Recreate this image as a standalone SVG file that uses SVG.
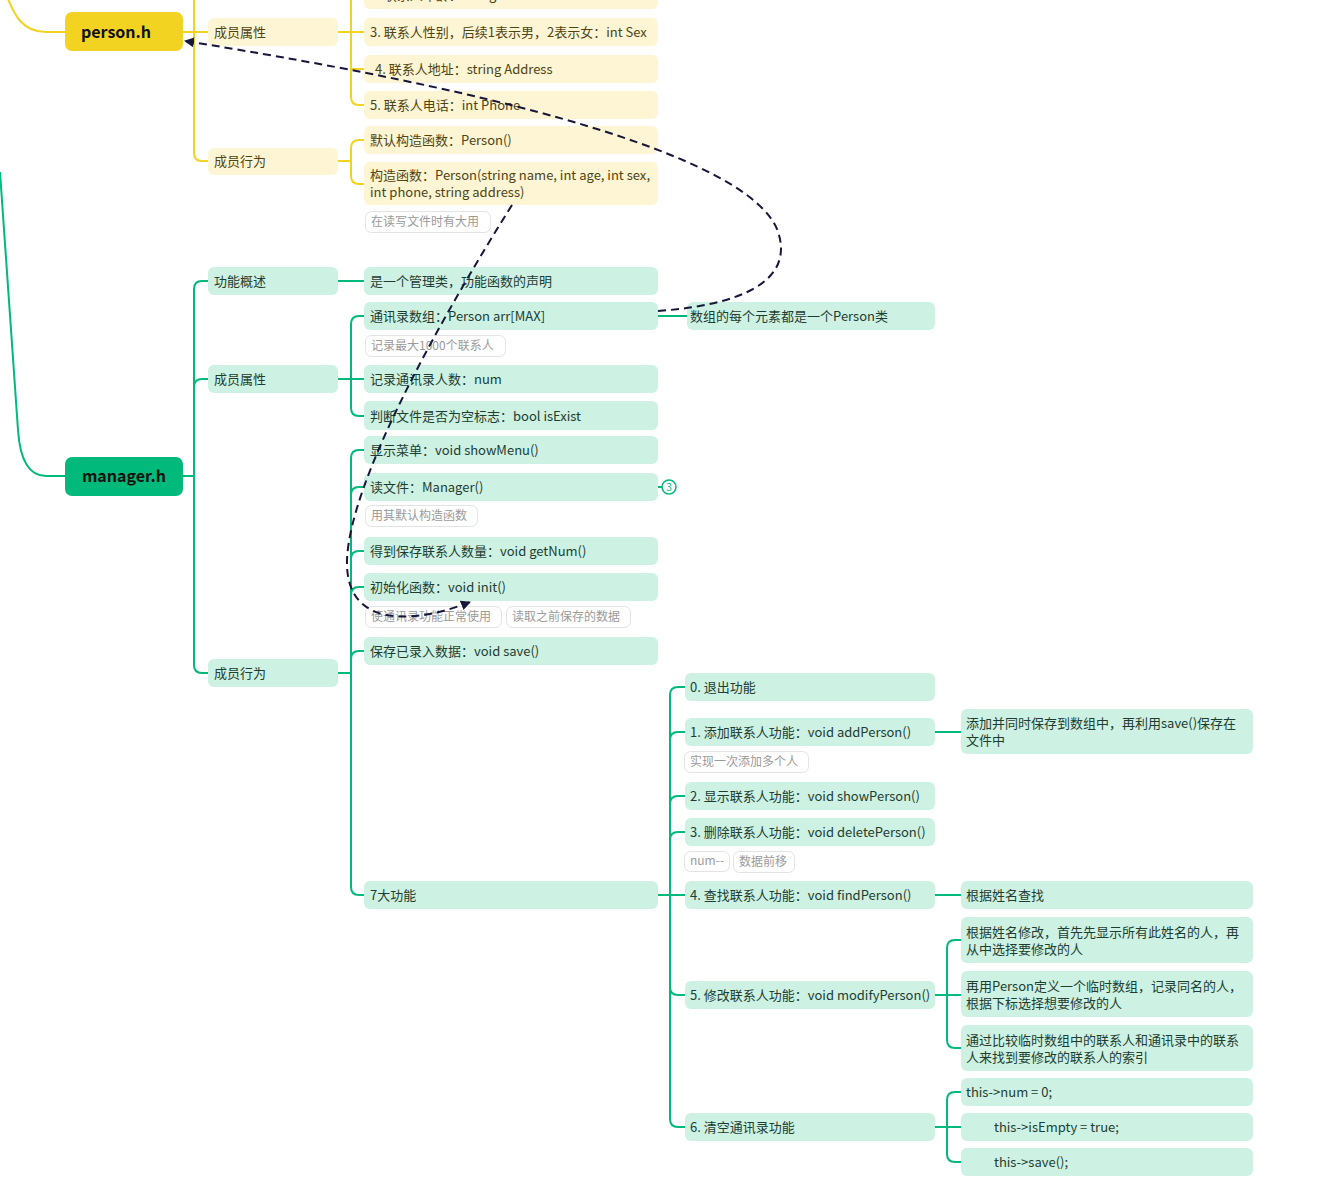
<svg xmlns="http://www.w3.org/2000/svg" width="1325" height="1198" viewBox="0 0 1325 1198">
<defs>
<style>
text{font-family:"Noto Sans CJK SC","Noto Sans",sans-serif;font-size:13px}
.y{fill:#fdf5d4}
.g{fill:#cdf1e3}
.ty{fill:#4f4412}
.tg{fill:#1d3d31}
.note{fill:#fff;stroke:#e3e3e3;stroke-width:1}
.tn{fill:#9a9a9a;font-size:12px}
.ly{fill:none;stroke:#f2d321;stroke-width:2}
.lg{fill:none;stroke:#00b97a;stroke-width:2}
.dash{fill:none;stroke:#16163a;stroke-width:2;stroke-dasharray:8 5}
.root{font-size:16px;font-weight:bold;fill:#111}
</style>
<marker id="arr" viewBox="0 0 10 10" refX="9" refY="5" markerWidth="10" markerHeight="10" markerUnits="userSpaceOnUse" orient="auto">
<path d="M0,0 L10,5 L0,10 Z" fill="#16163a"/>
</marker>
</defs>
<rect width="1325" height="1198" fill="#fff"/>

<g id="connectors">
<path class="ly" d="M4,-12 C14,18 24,32 46,32 H65"/>
<path class="lg" d="M0,172 L18,430 Q21,476 46,476 H65"/>
<path class="ly" d="M183,32 H208 M194,32 V-20 M194,32 V153 Q194,161 202,161 H208"/>
<path class="ly" d="M338,32 H364 M351,32 V-40 M351,32 V97 Q351,105 359,105 H364 M351,69 H364"/>
<path class="ly" d="M338,161 H351 M351,161 V148 Q351,140 359,140 H364 M351,161 V176 Q351,184 359,184 H364"/>
<path class="lg" d="M183,476 H194 M194,476 V289 Q194,281 202,281 H208 M194,476 V387 Q194,379 202,379 H208 M194,476 V665 Q194,673 202,673 H208"/>
<path class="lg" d="M338,281 H365"/>
<path class="lg" d="M338,379 H364 M351,379 V324 Q351,316 359,316 H364 M351,379 V408 Q351,416 359,416 H364"/>
<path class="lg" d="M338,673 H351 M351,673 V458 Q351,450 359,450 H364 M351,673 V495 Q351,487 359,487 H364 M351,673 V559 Q351,551 359,551 H364 M351,673 V595 Q351,587 359,587 H364 M351,673 V659 Q351,651 359,651 H364 M351,673 V887 Q351,895 359,895 H364"/>
<path class="lg" d="M658,316 H687"/>
<path class="lg" d="M658,487 H662"/>
<circle cx="669" cy="487" r="7" fill="#fff" stroke="#00b97a" stroke-width="1.5"/>
<text x="669" y="491" text-anchor="middle" style="font-size:10px;fill:#00b97a">3</text>
<path class="lg" d="M658,895 H685 M670,895 V695 Q670,687 678,687 H685 M670,895 V740 Q670,732 678,732 H685 M670,895 V804 Q670,796 678,796 H685 M670,895 V840 Q670,832 678,832 H685 M670,895 V1119 Q670,1127 678,1127 H685 M670,895 V987 Q670,995 678,995 H685"/>
<path class="lg" d="M935,732 H961 M935,895 H961"/>
<path class="lg" d="M935,995 H961 M947,995 V948 Q947,940 955,940 H961 M947,995 V1040 Q947,1048 955,1048 H961"/>
<path class="lg" d="M935,1127 H961 M947,1127 V1100 Q947,1092 955,1092 H961 M947,1127 V1154 Q947,1162 955,1162 H961"/>
</g>

<g id="person-h"><rect x="65" y="12" width="118" height="39" rx="7" fill="#f2d321"/><text class="root" x="116" y="38" text-anchor="middle">person.h</text></g>
<g id="p-attr"><rect class="y" x="208" y="18" width="130" height="28" rx="6"/><text class="ty" x="214" y="37">成员属性</text></g>
<g id="p-attr-2"><rect class="y" x="364" y="-19" width="294" height="28" rx="6"/><text class="ty" x="370" y="0">2. 联系人年龄：int Age</text></g>
<g id="p-attr-3"><rect class="y" x="364" y="18" width="294" height="28" rx="6"/><text class="ty" x="370" y="37">3. 联系人性别，后续1表示男，2表示女：int Sex</text></g>
<g id="p-attr-4"><rect class="y" x="364" y="55" width="294" height="28" rx="6"/><text class="ty" x="375" y="74">4. 联系人地址：string Address</text></g>
<g id="p-attr-5"><rect class="y" x="364" y="91" width="294" height="28" rx="6"/><text class="ty" x="370" y="110">5. 联系人电话：int Phone</text></g>
<g id="p-beh"><rect class="y" x="208" y="148" width="130" height="27" rx="6"/><text class="ty" x="214" y="166">成员行为</text></g>
<g id="p-beh-1"><rect class="y" x="364" y="126" width="294" height="28" rx="6"/><text class="ty" x="370" y="145">默认构造函数：Person()</text></g>
<g id="p-beh-2"><rect class="y" x="364" y="162" width="294" height="43" rx="6"/><text class="ty" x="370" y="180">构造函数：Person(string name, int age, int sex,</text><text class="ty" x="370" y="197">int phone, string address)</text></g>
<g id="p-note"><rect class="note" x="365.5" y="211.5" width="125" height="21" rx="6"/><text class="tn" x="371" y="226">在读写文件时有大用</text></g>

<g id="manager-h"><rect x="65" y="457" width="118" height="39" rx="7" fill="#00b97a"/><text class="root" x="124" y="482" text-anchor="middle">manager.h</text></g>
<g id="m-desc"><rect class="g" x="208" y="267" width="130" height="28" rx="6"/><text class="tg" x="214" y="286">功能概述</text></g>
<g id="m-desc-1"><rect class="g" x="364" y="267" width="294" height="28" rx="6"/><text class="tg" x="370" y="286">是一个管理类，功能函数的声明</text></g>
<g id="m-attr"><rect class="g" x="208" y="365" width="130" height="28" rx="6"/><text class="tg" x="214" y="384">成员属性</text></g>
<g id="m-attr-1"><rect class="g" x="364" y="302" width="294" height="28" rx="6"/><text class="tg" x="370" y="321">通讯录数组：Person arr[MAX]</text></g>
<g id="m-attr-1-note"><rect class="note" x="365.5" y="335.5" width="140" height="21" rx="6"/><text class="tn" x="371" y="350">记录最大1000个联系人</text></g>
<g id="m-attr-1-c"><rect class="g" x="687" y="302" width="248" height="28" rx="6"/><text class="tg" x="690" y="321">数组的每个元素都是一个Person类</text></g>
<g id="m-attr-2"><rect class="g" x="364" y="365" width="294" height="28" rx="6"/><text class="tg" x="370" y="384">记录通讯录人数：num</text></g>
<g id="m-attr-3"><rect class="g" x="364" y="401" width="294" height="29" rx="6"/><text class="tg" x="370" y="421">判断文件是否为空标志：bool isExist</text></g>
<g id="m-beh"><rect class="g" x="208" y="659" width="130" height="28" rx="6"/><text class="tg" x="214" y="678">成员行为</text></g>
<g id="m-beh-1"><rect class="g" x="364" y="436" width="294" height="28" rx="6"/><text class="tg" x="370" y="455">显示菜单：void showMenu()</text></g>
<g id="m-beh-2"><rect class="g" x="364" y="473" width="294" height="28" rx="6"/><text class="tg" x="370" y="492">读文件：Manager()</text></g>
<g id="m-beh-2-note"><rect class="note" x="365.5" y="505.5" width="112" height="21" rx="6"/><text class="tn" x="371" y="520">用其默认构造函数</text></g>
<g id="m-beh-3"><rect class="g" x="364" y="537" width="294" height="28" rx="6"/><text class="tg" x="370" y="556">得到保存联系人数量：void getNum()</text></g>
<g id="m-beh-4"><rect class="g" x="364" y="573" width="294" height="28" rx="6"/><text class="tg" x="370" y="592">初始化函数：void init()</text></g>
<g id="m-beh-4-note1"><rect class="note" x="365.5" y="606.5" width="136" height="21" rx="6"/><text class="tn" x="371" y="621">使通讯录功能正常使用</text></g>
<g id="m-beh-4-note2"><rect class="note" x="506.5" y="606.5" width="124" height="21" rx="6"/><text class="tn" x="512" y="621">读取之前保存的数据</text></g>
<g id="m-beh-5"><rect class="g" x="364" y="637" width="294" height="28" rx="6"/><text class="tg" x="370" y="656">保存已录入数据：void save()</text></g>
<g id="m-beh-6"><rect class="g" x="364" y="881" width="294" height="28" rx="6"/><text class="tg" x="370" y="900">7大功能</text></g>

<g id="f0"><rect class="g" x="685" y="673" width="250" height="28" rx="6"/><text class="tg" x="690" y="692">0. 退出功能</text></g>
<g id="f1"><rect class="g" x="685" y="718" width="250" height="28" rx="6"/><text class="tg" x="690" y="737">1. 添加联系人功能：void addPerson()</text></g>
<g id="f1-c"><rect class="g" x="961" y="709" width="292" height="45" rx="6"/><text class="tg" x="966" y="728">添加并同时保存到数组中，再利用save()保存在</text><text class="tg" x="966" y="745">文件中</text></g>
<g id="f1-note"><rect class="note" x="684.5" y="751.5" width="124" height="21" rx="6"/><text class="tn" x="690" y="766">实现一次添加多个人</text></g>
<g id="f2"><rect class="g" x="685" y="782" width="250" height="28" rx="6"/><text class="tg" x="690" y="801">2. 显示联系人功能：void showPerson()</text></g>
<g id="f3"><rect class="g" x="685" y="818" width="250" height="28" rx="6"/><text class="tg" x="690" y="837">3. 删除联系人功能：void deletePerson()</text></g>
<g id="f3-note1"><rect class="note" x="684.5" y="851.5" width="45" height="20" rx="6"/><text class="tn" x="690" y="865">num--</text></g>
<g id="f3-note2"><rect class="note" x="733.5" y="851.5" width="61" height="21" rx="6"/><text class="tn" x="739" y="866">数据前移</text></g>
<g id="f4"><rect class="g" x="685" y="881" width="250" height="28" rx="6"/><text class="tg" x="690" y="900">4. 查找联系人功能：void findPerson()</text></g>
<g id="f4-c"><rect class="g" x="961" y="881" width="292" height="28" rx="6"/><text class="tg" x="966" y="900">根据姓名查找</text></g>
<g id="f5"><rect class="g" x="685" y="981" width="250" height="28" rx="6"/><text class="tg" x="690" y="1000">5. 修改联系人功能：void modifyPerson()</text></g>
<g id="f5-c1"><rect class="g" x="961" y="917" width="292" height="46" rx="6"/><text class="tg" x="966" y="937">根据姓名修改，首先先显示所有此姓名的人，再</text><text class="tg" x="966" y="954">从中选择要修改的人</text></g>
<g id="f5-c2"><rect class="g" x="961" y="971" width="292" height="46" rx="6"/><text class="tg" x="966" y="991">再用Person定义一个临时数组，记录同名的人，</text><text class="tg" x="966" y="1008">根据下标选择想要修改的人</text></g>
<g id="f5-c3"><rect class="g" x="961" y="1025" width="292" height="46" rx="6"/><text class="tg" x="966" y="1045">通过比较临时数组中的联系人和通讯录中的联系</text><text class="tg" x="966" y="1062">人来找到要修改的联系人的索引</text></g>
<g id="f6"><rect class="g" x="685" y="1113" width="250" height="28" rx="6"/><text class="tg" x="690" y="1132">6. 清空通讯录功能</text></g>
<g id="f6-c1"><rect class="g" x="961" y="1078" width="292" height="28" rx="6"/><text class="tg" x="966" y="1097">this-&gt;num = 0;</text></g>
<g id="f6-c2"><rect class="g" x="961" y="1113" width="292" height="28" rx="6"/><text class="tg" x="994" y="1132">this-&gt;isEmpty = true;</text></g>
<g id="f6-c3"><rect class="g" x="961" y="1148" width="292" height="28" rx="6"/><text class="tg" x="994" y="1167">this-&gt;save();</text></g>

<g id="relations">
<path class="dash" marker-end="url(#arr)" d="M658,311 C740,305 792,282 779,235 C765,180 620,110 185,41"/>
<path class="dash" marker-end="url(#arr)" d="M512,205 C440,320 350,480 347,560 C345,632 420,622 470,602"/>
</g>
</svg>
